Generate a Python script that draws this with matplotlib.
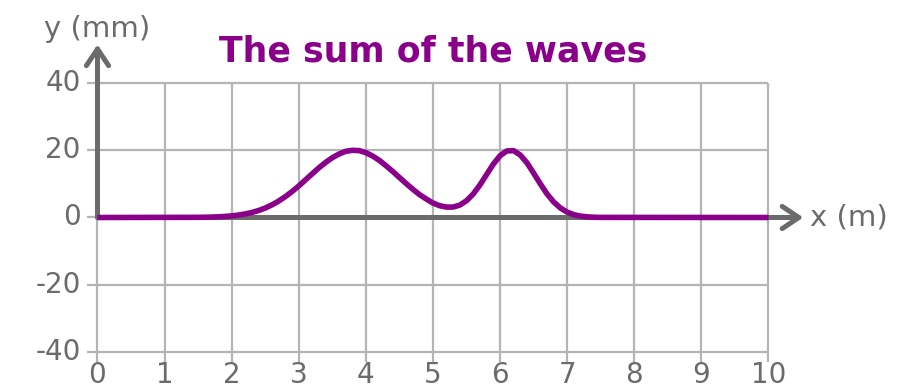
import matplotlib

matplotlib.use("Agg")

import matplotlib.pyplot as plt
from matplotlib.patches import FancyArrowPatch


OUT_PNG = "out.png"

# values (x in m, y in mm)
x_m = [0.0, 1.5, 1.6, 1.7, 1.8, 1.9, 2.0, 2.1, 2.2, 2.3, 2.4, 2.5, 2.6, 2.7, 2.8, 2.9,
       3.0, 3.1, 3.2, 3.3, 3.4, 3.5, 3.6, 3.7, 3.8, 3.9, 4.0, 4.1, 4.2, 4.3, 4.4, 4.5,
       4.6, 4.7, 4.8, 4.9, 5.0, 5.1, 5.2, 5.3, 5.4, 5.5, 5.6, 5.7, 5.8, 5.9, 6.0, 6.1,
       6.2, 6.3, 6.4, 6.5, 6.6, 6.7, 6.8, 6.9, 7.0, 7.1, 7.2, 7.3, 7.4, 7.5, 10.0]
y_mm = [0.0, 0.05, 0.08, 0.13, 0.2, 0.32, 0.48, 0.72, 1.05, 1.49, 2.07, 2.82, 3.76, 4.88, 6.22, 7.73,
        9.39, 11.2, 13.0, 14.8, 16.4, 17.8, 18.9, 19.7, 20.0, 19.9, 19.3, 18.3, 17.0, 15.4, 13.7, 11.9,
        10.1, 8.4, 6.8, 5.5, 4.3, 3.5, 3.1, 3.1, 3.7, 5.0, 7.0, 9.7, 12.8, 15.9, 18.4, 19.8,
        19.9, 18.6, 16.3, 13.2, 10.0, 7.0, 4.6, 2.8, 1.6, 0.83, 0.41, 0.19, 0.08, 0.03, 0.0]

x_ticks = [0, 1, 2, 3, 4, 5, 6, 7, 8, 9, 10]
y_ticks = [-40, -20, 0, 20, 40]

TITLE = "The sum of the waves"
X_LABEL = "x (m)"
Y_LABEL = "y (mm)"

PURPLE = "#8a008a"
AXIS_GRAY = "#6b6b6b"
GRID_GRAY = "#b4b4b4"
TEXT_GRAY = "#6b6b6b"


def draw_grid(ax):
    for xv in x_ticks:
        ax.plot([xv, xv], [-43, 40], color=GRID_GRAY, lw=1.6, zorder=1, solid_capstyle="butt")
    for yv in y_ticks:
        ax.plot([-0.15, 10], [yv, yv], color=GRID_GRAY, lw=1.6, zorder=1, solid_capstyle="butt")


def draw_axes_arrows(ax):
    style = "->,head_length=0.6,head_width=0.4"
    x_arrow = FancyArrowPatch((0, 0), (10.52, 0), arrowstyle=style, mutation_scale=20,
                              color=AXIS_GRAY, lw=3.6, zorder=2, shrinkA=0, shrinkB=0)
    y_arrow = FancyArrowPatch((0, 0), (0, 51.5), arrowstyle=style, mutation_scale=20,
                              color=AXIS_GRAY, lw=3.6, zorder=2, shrinkA=0, shrinkB=0)
    ax.add_patch(x_arrow)
    ax.add_patch(y_arrow)


def draw_labels(ax):
    for xv in x_ticks:
        ax.text(xv, -47, str(xv), ha="center", va="center", fontsize=20, color=TEXT_GRAY)
    for yv in y_ticks:
        ax.text(-0.25, yv, str(yv), ha="right", va="center", fontsize=20, color=TEXT_GRAY)
    ax.text(10.62, 0, X_LABEL, ha="left", va="center", fontsize=21, color=TEXT_GRAY)
    ax.text(0.0, 56, Y_LABEL, ha="center", va="center", fontsize=21, color=TEXT_GRAY)
    ax.text(5.0, 49.5, TITLE, ha="center", va="center", fontsize=25, color=PURPLE, fontweight="bold")


def main():
    fig = plt.figure(figsize=(9.22, 3.9), dpi=100)
    ax = fig.add_axes([0, 0, 1, 1])
    ax.set_xlim(-1.453, 12.288)
    ax.set_ylim(-51.34, 64.73)
    ax.axis("off")

    draw_grid(ax)
    draw_axes_arrows(ax)
    ax.plot(x_m, y_mm, color=PURPLE, lw=4.0, zorder=3, solid_capstyle="butt")
    draw_labels(ax)

    fig.savefig(OUT_PNG, dpi=100)
    plt.close(fig)


if __name__ == "__main__":
    main()
